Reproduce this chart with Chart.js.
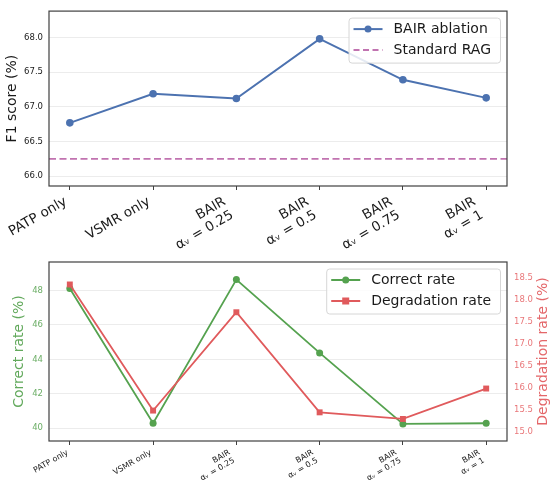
<!DOCTYPE html>
<html>
<head>
<meta charset="utf-8">
<script src="https://cdn.jsdelivr.net/npm/chart.js@4"></script>
<style>
  html, body { margin: 0; padding: 0; background: #fff; }
  .box { position: absolute; left: 0; width: 556px; }
</style>
</head>
<body>
<div class="box" style="top:0;height:262px"><canvas id="c1" width="556" height="262"></canvas></div>
<div class="box" style="top:245px;height:245px"><canvas id="c2" width="556" height="245"></canvas></div>
<script>
// ---------- data ----------
const categories = [
  ['PATP only'],
  ['VSMR only'],
  ['BAIR', 'αᵥ = 0.25'],
  ['BAIR', 'αᵥ = 0.5'],
  ['BAIR', 'αᵥ = 0.75'],
  ['BAIR', 'αᵥ = 1']
];
const f1Scores = [66.77, 67.19, 67.12, 67.98, 67.39, 67.13];
const standardRag = 66.25;
const correctRate = [48.12, 40.29, 48.64, 44.38, 40.25, 40.29];
const degradationRate = [18.34, 15.48, 17.71, 15.44, 15.29, 15.98];
const f1Ticks = [66.0, 66.5, 67.0, 67.5, 68.0];
const correctTicks = [40, 42, 44, 46, 48];
const degradTicks = [15.0, 15.5, 16.0, 16.5, 17.0, 17.5, 18.0, 18.5];

// ---------- style ----------
const FONT = 'DejaVu Sans';
const BLUE = '#4c72b0';
const PINK = '#c173b0';
const GREEN = '#55a24f';
const RED = '#e05a5c';
const FRAME = '#404040';

const toXY = arr => arr.map((v, i) => ({ x: i, y: v }));
const xMin = -0.25, xMax = categories.length - 0.75;

const framePlugin = {
  id: 'frame',
  afterDatasetsDraw(chart) {
    const a = chart.chartArea, ctx = chart.ctx;
    ctx.save();
    ctx.strokeStyle = FRAME;
    ctx.lineWidth = 1.2;
    ctx.strokeRect(a.left, a.top, a.right - a.left, a.bottom - a.top);
    ctx.restore();
  }
};

// rotated multi-line category labels, lines right-aligned, rotated bbox right-aligned at tick
const xLabelPlugin = {
  id: 'xLabels',
  afterDraw(chart, args, opts) {
    if (!opts.size) return;
    const ctx = chart.ctx, sx = chart.scales.x, a = chart.chartArea;
    const th = opts.angle * Math.PI / 180;
    const L = opts.size * opts.lh;
    ctx.save();
    ctx.font = opts.size + 'px "' + FONT + '"';
    ctx.fillStyle = '#1a1a1a';
    ctx.textAlign = 'right';
    ctx.textBaseline = 'middle';
    categories.forEach((lines, i) => {
      let W = 0;
      lines.forEach(t => { W = Math.max(W, ctx.measureText(t).width); });
      const H = lines.length * L;
      const hx = W / 2 * Math.cos(th) + H / 2 * Math.sin(th);
      const hy = W / 2 * Math.sin(th) + H / 2 * Math.cos(th);
      const cx = sx.getPixelForValue(i) - hx;
      const cy = a.bottom + opts.pad + hy;
      ctx.save();
      ctx.translate(cx, cy);
      ctx.rotate(-th);
      lines.forEach((t, k) => {
        ctx.fillText(t, W / 2, -H / 2 + L * (k + 0.5));
      });
      ctx.restore();
    });
    ctx.restore();
  }
};

// right-axis title reading bottom-to-top
const rightTitlePlugin = {
  id: 'rightTitle',
  afterDraw(chart, args, opts) {
    if (!opts.text) return;
    const ctx = chart.ctx, a = chart.chartArea;
    ctx.save();
    ctx.font = opts.size + 'px "' + FONT + '"';
    ctx.fillStyle = opts.color;
    ctx.textAlign = 'center';
    ctx.textBaseline = 'middle';
    ctx.translate(opts.x, (a.top + a.bottom) / 2);
    ctx.rotate(-Math.PI / 2);
    ctx.fillText(opts.text, 0, 0);
    ctx.restore();
  }
};

const legendPlugin = {
  id: 'boxLegend',
  afterDraw(chart, args, opts) {
    const items = opts.items || [];
    if (!items.length) return;
    const a = chart.chartArea, ctx = chart.ctx;
    ctx.save();
    ctx.font = '14px "' + FONT + '"';
    let tw = 0;
    items.forEach(it => { tw = Math.max(tw, ctx.measureText(it.label).width); });
    const w = 4.5 + 29 + 11 + tw + 9.5;
    const h = 45;
    const x0 = a.right - 6.5 - w;
    const y0 = a.top + 7;
    ctx.beginPath();
    const r = 3;
    ctx.moveTo(x0 + r, y0);
    ctx.lineTo(x0 + w - r, y0); ctx.quadraticCurveTo(x0 + w, y0, x0 + w, y0 + r);
    ctx.lineTo(x0 + w, y0 + h - r); ctx.quadraticCurveTo(x0 + w, y0 + h, x0 + w - r, y0 + h);
    ctx.lineTo(x0 + r, y0 + h); ctx.quadraticCurveTo(x0, y0 + h, x0, y0 + h - r);
    ctx.lineTo(x0, y0 + r); ctx.quadraticCurveTo(x0, y0, x0 + r, y0);
    ctx.closePath();
    ctx.fillStyle = 'rgba(255,255,255,0.85)';
    ctx.fill();
    ctx.strokeStyle = '#d6d6d6';
    ctx.lineWidth = 1;
    ctx.stroke();
    items.forEach((it, i) => {
      const yy = y0 + 11 + i * 21;
      const lx = x0 + 4.5;
      ctx.strokeStyle = it.color;
      ctx.lineWidth = 2;
      ctx.setLineDash(it.dash || []);
      ctx.beginPath(); ctx.moveTo(lx, yy); ctx.lineTo(lx + 29, yy); ctx.stroke();
      ctx.setLineDash([]);
      ctx.fillStyle = it.color;
      if (it.marker === 'circle') {
        ctx.beginPath(); ctx.arc(lx + 14.5, yy, 3.5, 0, Math.PI * 2); ctx.fill();
      } else if (it.marker === 'rect') {
        ctx.fillRect(lx + 14.5 - 3.5, yy - 3.5, 7, 7);
      }
      ctx.fillStyle = '#1a1a1a';
      ctx.textBaseline = 'middle';
      ctx.textAlign = 'left';
      ctx.fillText(it.label, lx + 29 + 11, yy + 0.5);
    });
    ctx.restore();
  }
};

Chart.register(framePlugin, legendPlugin, xLabelPlugin, rightTitlePlugin);
Chart.defaults.font.family = FONT;
Chart.defaults.animation = false;

function xScale(height) {
  return {
    type: 'linear',
    min: xMin, max: xMax,
    afterBuildTicks: s => { s.ticks = categories.map((c, i) => ({ value: i })); },
    afterFit: s => { s.height = height; s.paddingLeft = 0; s.paddingRight = 0; },
    border: { display: false },
    grid: { drawOnChartArea: false, drawTicks: true, tickLength: 4, color: FRAME, lineWidth: 1 },
    ticks: { display: false, autoSkip: false }
  };
}

// ---------- chart 1 ----------
new Chart(document.getElementById('c1'), {
  type: 'line',
  data: {
    datasets: [
      {
        label: 'BAIR ablation',
        data: toXY(f1Scores),
        borderColor: BLUE, backgroundColor: BLUE,
        borderWidth: 2, pointRadius: 3.8, pointBorderWidth: 0,
        tension: 0
      },
      {
        label: 'Standard RAG',
        data: [{ x: xMin, y: standardRag }, { x: xMax, y: standardRag }],
        borderColor: PINK, borderWidth: 1.8, borderDash: [7, 3.5],
        pointRadius: 0
      }
    ]
  },
  options: {
    responsive: false,
    layout: { padding: { top: 7, right: 49, left: 0, bottom: 0 } },
    plugins: {
      legend: { display: false },
      tooltip: { enabled: false },
      xLabels: { size: 13.5, angle: 30, pad: 8, lh: 1.15 },
      boxLegend: {
        items: [
          { label: 'BAIR ablation', color: BLUE, marker: 'circle' },
          { label: 'Standard RAG', color: PINK, dash: [6, 3.5] }
        ]
      }
    },
    scales: {
      x: xScale(262 - 186),
      y: {
        type: 'linear', min: 65.86, max: 68.38,
        afterBuildTicks: s => { s.ticks = f1Ticks.map(v => ({ value: v })); },
        afterFit: s => { s.width = 49; },
        border: { display: false },
        grid: { color: '#ececec', lineWidth: 1, drawTicks: false },
        ticks: {
          padding: 6, color: '#1a1a1a',
          font: { size: 8.5, family: FONT },
          callback: v => v.toFixed(1)
        },
        title: {
          display: true, text: 'F1 score (%)', color: '#1a1a1a',
          font: { size: 14, family: FONT }, padding: { top: 4, bottom: 0 }
        }
      }
    }
  }
});

// ---------- chart 2 ----------
new Chart(document.getElementById('c2'), {
  type: 'line',
  data: {
    datasets: [
      {
        label: 'Correct rate',
        data: toXY(correctRate),
        yAxisID: 'y',
        borderColor: GREEN, backgroundColor: GREEN,
        borderWidth: 1.8, pointRadius: 3.5, pointBorderWidth: 0,
        tension: 0, order: 2
      },
      {
        label: 'Degradation rate',
        data: toXY(degradationRate),
        yAxisID: 'y1',
        borderColor: RED, backgroundColor: RED,
        borderWidth: 1.8, pointStyle: 'rect', pointRadius: 4.2, pointBorderWidth: 0,
        tension: 0, order: 1
      }
    ]
  },
  options: {
    responsive: false,
    layout: { padding: { top: 17, right: 0, left: 0, bottom: 0 } },
    plugins: {
      legend: { display: false },
      tooltip: { enabled: false },
      xLabels: { size: 8, angle: 30, pad: 7, lh: 1.15 },
      rightTitle: { text: 'Degradation rate (%)', color: '#e4676a', size: 14, x: 543 },
      boxLegend: {
        items: [
          { label: 'Correct rate', color: GREEN, marker: 'circle' },
          { label: 'Degradation rate', color: RED, marker: 'rect' }
        ]
      }
    },
    scales: {
      x: xScale(49),
      y: {
        type: 'linear', position: 'left', min: 39.26, max: 49.66,
        afterBuildTicks: s => { s.ticks = correctTicks.map(v => ({ value: v })); },
        afterFit: s => { s.width = 49; },
        border: { display: false },
        grid: { color: '#ececec', lineWidth: 1, drawTicks: false },
        ticks: {
          padding: 6, color: '#6cae66',
          font: { size: 8.5, family: FONT },
          callback: v => String(v)
        },
        title: {
          display: true, text: 'Correct rate (%)', color: '#62a95c',
          font: { size: 14, family: FONT }, padding: { top: 11, bottom: 0 }
        }
      },
      y1: {
        type: 'linear', position: 'right', min: 14.79, max: 18.85,
        afterBuildTicks: s => { s.ticks = degradTicks.map(v => ({ value: v })); },
        afterFit: s => { s.width = 49; },
        border: { display: false },
        grid: { drawOnChartArea: false, drawTicks: false },
        ticks: {
          padding: 7, color: '#e9777a',
          font: { size: 8.5, family: FONT },
          callback: v => v.toFixed(1)
        }
      }
    }
  }
});
</script>
</body>
</html>
